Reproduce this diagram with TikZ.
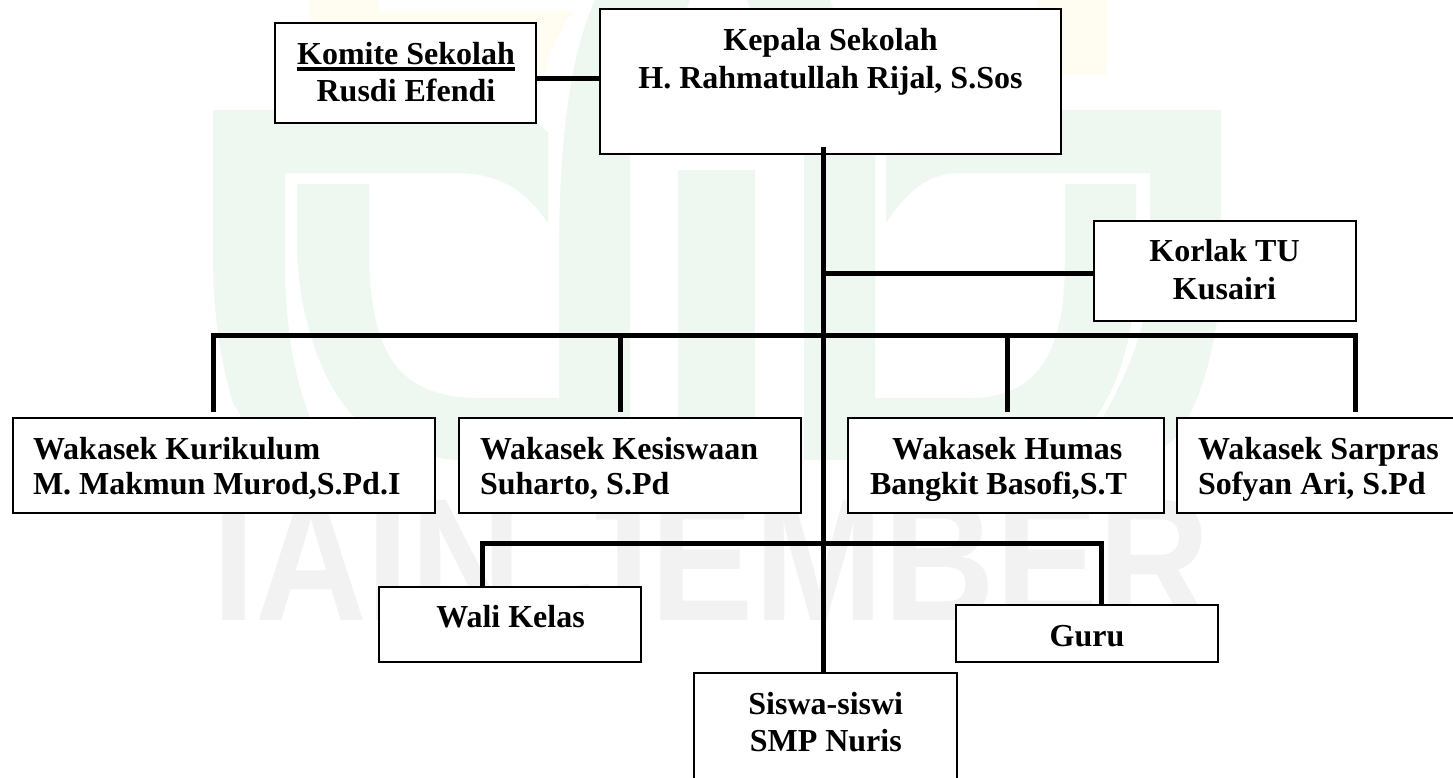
\documentclass[tikz,border=0pt]{standalone}
\usepackage{fontspec}
\setmainfont{Liberation Serif}
\newfontfamily\wmfont{Liberation Sans}
\definecolor{wmgreen}{HTML}{EFF7F1}
\definecolor{wmgray}{HTML}{F2F2F2}
\definecolor{wmyellow}{HTML}{FFFDF1}
\newcommand\ctwo[3]{\vtop{\baselineskip=#1\lineskiplimit=-20pt\halign{\hfil##\hfil\cr #2\cr #3\cr}}}
\newcommand\ltwo[3]{\vtop{\baselineskip=#1\lineskiplimit=-20pt\halign{##\hfil\cr #2\cr #3\cr}}}
\newcommand\ulbox[1]{\setbox0\hbox{#1}\rlap{\rule[-5.25pt]{\wd0}{3.25pt}}\box0}
\tikzset{
  x=0.75pt,y=-0.75pt,
  orgbox/.style={draw=black,fill=white,line width=1.5pt,inner sep=0pt,outer sep=0pt},
  orgtext/.style={inner sep=0pt,outer sep=0pt,font=\fontsize{24}{28}\selectfont\bfseries,text=black},
  conn/.style={draw=black,line width=3.75pt,line join=miter,line cap=butt},
  wm/.style={fill=wmgreen,draw=none}
}
\begin{document}
\begin{tikzpicture}
\useasboundingbox (0,0) rectangle (1453,778);
\clip (0,0) rectangle (1453,778);
\fill[white] (0,0) rectangle (1453,778);
% watermark
\fill[wmyellow] (310,0) -- (378,0) -- (378,11) -- (573,11) .. controls (558,32) and (550,52) .. (545,72) -- (330,72) -- (310,40) -- cycle;
\fill[wmyellow] (1038,0) -- (1107,0) -- (1107,75) -- (1038,75) -- cycle;
\fill[wm] (213,110) -- (500,110) .. controls (520,110) and (535,118) .. (548,133) -- (548,223) .. controls (525,190) and (500,173) .. (455,173) -- (285,173) -- (285,260) .. controls (285,330) and (295,380) .. (310,417) -- (350,480) -- (280,480) -- (233,403) .. controls (220,360) and (213,310) .. (213,260) -- cycle;
\fill[wm] (297,184) -- (369,184) -- (369,260) .. controls (372,350) and (395,398) .. (480,398) -- (559,398) -- (559,260) .. controls (559,150) and (568,60) .. (595,0) -- (690,0) -- (630,155) -- (630,460) -- (455,460) .. controls (370,450) and (335,410) .. (312,340) .. controls (300,300) and (297,270) .. (297,240) -- cycle;
\fill[wm] (678,170) -- (755,170) -- (755,470) -- (678,470) -- cycle;
\fill[wm] (1065,184) -- (1136,184) -- (1136,260) .. controls (1136,320) and (1125,380) .. (1090,425) .. controls (1060,450) and (1030,460) .. (980,460) -- (804,460) -- (804,155) -- (747,0) -- (830,0) -- (886,155) -- (875,155) -- (875,398) -- (970,398) .. controls (1040,398) and (1065,350) .. (1065,260) -- cycle;
\fill[wm] (886,110) -- (1221,110) -- (1221,260) .. controls (1221,330) and (1205,395) .. (1177,437) -- (1120,480) -- (1070,480) -- (1103,417) .. controls (1130,370) and (1150,320) .. (1150,260) -- (1150,173) -- (960,173) .. controls (925,173) and (905,195) .. (886,223) -- cycle;
\node[inner sep=0pt,outer sep=0pt,anchor=base west,text=wmgray,font=\wmfont\fontsize{131}{131}\selectfont\bfseries,xscale=0.887] (wmtext) at (212,620) {IAIN JEMBER};
% boxes
\node[orgbox,minimum width=261*0.75pt,minimum height=100*0.75pt] (komite) at (405.5,73.4) {};
\node[orgbox,minimum width=460.5*0.75pt,minimum height=145.3*0.75pt] (kepala) at (830.5,81.7) {};
\node[orgbox,minimum width=261.5*0.75pt,minimum height=100.5*0.75pt] (korlak) at (1225,270.8) {};
\node[orgbox,minimum width=422.3*0.75pt,minimum height=95.6*0.75pt] (kurikulum) at (223.8,465.5) {};
\node[orgbox,minimum width=342.3*0.75pt,minimum height=95.6*0.75pt] (kesiswaan) at (629.8,465.5) {};
\node[orgbox,minimum width=316*0.75pt,minimum height=95.6*0.75pt] (humas) at (1006.3,465.5) {};
\node[orgbox,minimum width=283*0.75pt,minimum height=95.6*0.75pt] (sarpras) at (1318.5,465.5) {};
\node[orgbox,minimum width=261.7*0.75pt,minimum height=74.4*0.75pt] (wali) at (510.2,624.5) {};
\node[orgbox,minimum width=262.3*0.75pt,minimum height=56.4*0.75pt] (guru) at (1087.2,633.5) {};
\node[orgbox,minimum width=262.4*0.75pt,minimum height=130*0.75pt] (siswa) at (825.5,738.3) {};
% texts
\node[orgtext,anchor=base] (komiteT) at (406,64) {\ctwo{28.3pt}{\ulbox{Komite Sekolah}}{Rusdi Efendi}};
\node[orgtext,anchor=base] (kepalaT) at (830.5,50) {\ctwo{28.5pt}{Kepala Sekolah}{H. Rahmatullah Rijal, S.Sos}};
\node[orgtext,anchor=base] (korlakT) at (1224.5,261) {\ctwo{28.5pt}{Korlak TU}{Kusairi}};
\node[orgtext,anchor=base west] (kurikulumT) at (33,459) {\ltwo{26.8pt}{Wakasek Kurikulum}{M. Makmun Murod,S.Pd.I}};
\node[orgtext,anchor=base west] (kesiswaanT) at (480,459) {\ltwo{26.8pt}{Wakasek Kesiswaan}{Suharto, S.Pd}};
\node[orgtext,anchor=base west] (humasT) at (870,459) {\ltwo{26.8pt}{\hspace*{16.5pt}Wakasek Humas}{Bangkit Basofi,S.T}};
\node[orgtext,anchor=base west] (sarprasT) at (1198,459) {\ltwo{26.8pt}{Wakasek Sarpras}{Sofyan Ari, S.Pd}};
\node[orgtext,anchor=base] (waliT) at (510.5,627.3) {Wali Kelas};
\node[orgtext,anchor=base] (guruT) at (1087,646) {Guru};
\node[orgtext,anchor=base] (siswaT) at (825.8,714) {\ctwo{28.3pt}{Siswa-siswi}{SMP Nuris}};
% connector coordinates
\coordinate (trunkTop) at (823,147);
\coordinate (komiteY) at (600,78.5);
\coordinate (korlakY) at (823,273.7);
\coordinate (barY) at (823,335);
\coordinate (lowY) at (823,543);
\coordinate (d1) at (213,412);
\coordinate (d2) at (620,412);
\coordinate (d3) at (1007,412);
\coordinate (d4) at (1355.5,412);
\coordinate (lk) at (482,587);
\coordinate (rk) at (1101,605);
% connectors
\draw[conn] (komite.east |- komiteY) -- (kepala.west |- komiteY);
\draw[conn] (trunkTop) -- (trunkTop |- siswa.north);
\draw[conn] (korlakY) -- (korlak.west |- korlakY);
\draw[conn] (d1) -- (d1 |- barY) -- (d4 |- barY) -- (d4);
\draw[conn] (d2 |- barY) -- (d2);
\draw[conn] (d3 |- barY) -- (d3);
\draw[conn] (lk) -- (lk |- lowY) -- (rk |- lowY) -- (rk);
\end{tikzpicture}
\end{document}
